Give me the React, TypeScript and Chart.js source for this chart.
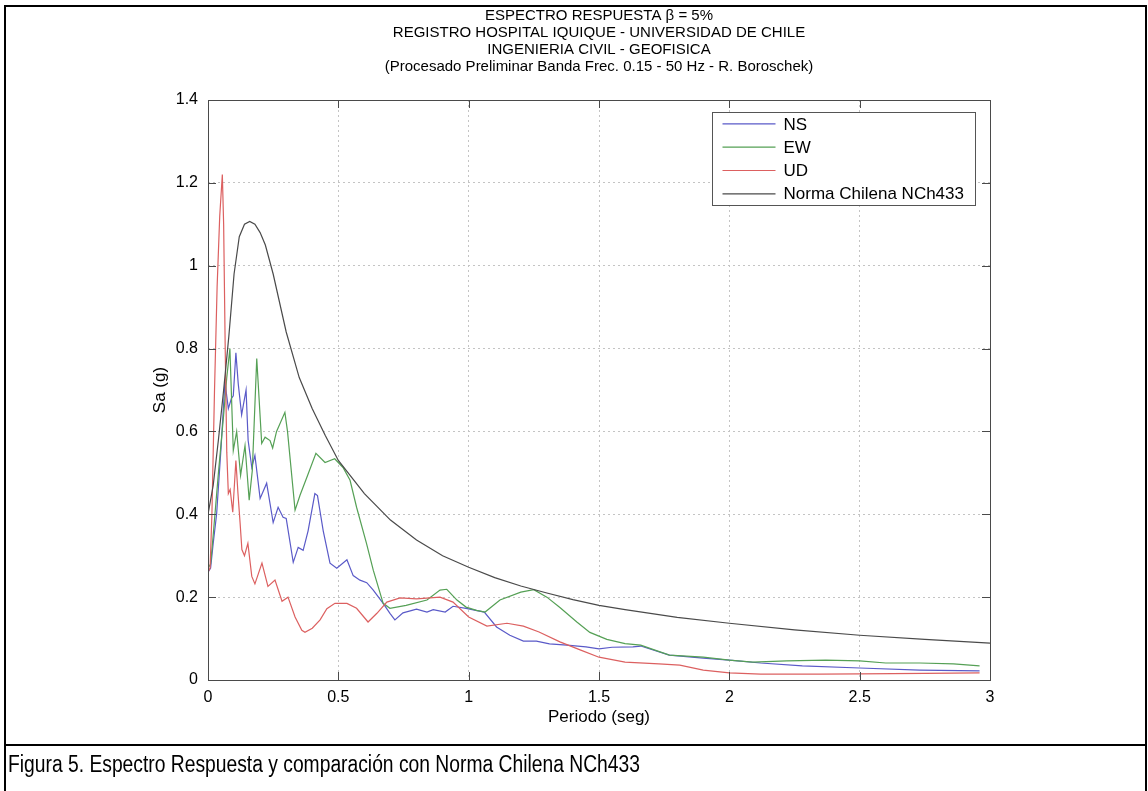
import React, { useEffect, useRef } from "react";
import { Chart, registerables } from "chart.js";

Chart.register(...registerables);

// ---------- text ----------
const titleLines = [
  "ESPECTRO RESPUESTA \u03B2 = 5%",
  "REGISTRO HOSPITAL IQUIQUE - UNIVERSIDAD DE CHILE",
  "INGENIERIA CIVIL - GEOFISICA",
  "(Procesado Preliminar Banda Frec. 0.15 - 50 Hz - R. Boroschek)",
];
const xAxisLabel = "Periodo (seg)";
const yAxisLabel = "Sa (g)";
const caption = "Figura 5. Espectro Respuesta y comparación con Norma Chilena NCh433";
const seriesNames = ["NS", "EW", "UD", "Norma Chilena NCh433"];

// ---------- ticks ----------
const xTicks = [0, 0.5, 1, 1.5, 2, 2.5, 3];
const yTicks = [0, 0.2, 0.4, 0.6, 0.8, 1, 1.2, 1.4];

// ---------- data ----------
const nsT = [0, 0.01, 0.02, 0.033, 0.05, 0.065, 0.078, 0.09, 0.097, 0.107, 0.116, 0.129, 0.146, 0.154, 0.168, 0.18, 0.2, 0.225, 0.25, 0.269, 0.288, 0.3, 0.327, 0.346, 0.365, 0.384, 0.41, 0.42, 0.442, 0.468, 0.494, 0.533, 0.557, 0.583, 0.609, 0.634, 0.672, 0.698, 0.717, 0.748, 0.8, 0.84, 0.864, 0.91, 0.94, 0.99, 1.06, 1.107, 1.158, 1.21, 1.26, 1.31, 1.377, 1.45, 1.5, 1.55, 1.63, 1.66, 1.77, 1.9, 2.0, 2.12, 2.28, 2.5, 2.73, 2.96];
const nsSa = [0.26, 0.27, 0.33, 0.4, 0.56, 0.72, 0.655, 0.68, 0.686, 0.79, 0.715, 0.64, 0.7, 0.578, 0.513, 0.542, 0.438, 0.475, 0.38, 0.417, 0.393, 0.39, 0.284, 0.32, 0.313, 0.36, 0.45, 0.445, 0.36, 0.282, 0.27, 0.29, 0.252, 0.241, 0.235, 0.217, 0.185, 0.161, 0.145, 0.162, 0.171, 0.164, 0.17, 0.164, 0.178, 0.173, 0.164, 0.128, 0.108, 0.094, 0.094, 0.087, 0.084, 0.08, 0.075, 0.079, 0.08, 0.082, 0.06, 0.053, 0.048, 0.041, 0.034, 0.029, 0.024, 0.022];

const ewT = [0, 0.01, 0.02, 0.04, 0.06, 0.072, 0.084, 0.097, 0.11, 0.125, 0.142, 0.158, 0.17, 0.187, 0.206, 0.219, 0.238, 0.248, 0.263, 0.295, 0.305, 0.334, 0.353, 0.379, 0.414, 0.449, 0.486, 0.518, 0.545, 0.57, 0.608, 0.634, 0.672, 0.698, 0.76, 0.84, 0.89, 0.916, 0.955, 0.99, 1.03, 1.063, 1.12, 1.2, 1.25, 1.3, 1.35, 1.415, 1.465, 1.53, 1.6, 1.66, 1.77, 1.9, 2.0, 2.09, 2.22, 2.37, 2.5, 2.6, 2.73, 2.86, 2.96];
const ewSa = [0.27, 0.28, 0.35, 0.5, 0.64, 0.73, 0.8, 0.554, 0.6, 0.494, 0.566, 0.434, 0.506, 0.776, 0.571, 0.586, 0.578, 0.56, 0.6, 0.646, 0.6, 0.41, 0.446, 0.489, 0.547, 0.525, 0.534, 0.513, 0.482, 0.417, 0.33, 0.265, 0.185, 0.173, 0.18, 0.193, 0.217, 0.219, 0.193, 0.176, 0.168, 0.164, 0.193, 0.212, 0.218, 0.2, 0.175, 0.14, 0.115, 0.098, 0.088, 0.084, 0.06, 0.055, 0.048, 0.043, 0.046, 0.048, 0.046, 0.041, 0.041, 0.039, 0.034];

const udT = [0, 0.008, 0.015, 0.025, 0.035, 0.045, 0.055, 0.06, 0.066, 0.072, 0.078, 0.085, 0.095, 0.107, 0.115, 0.123, 0.13, 0.14, 0.153, 0.168, 0.18, 0.207, 0.23, 0.257, 0.284, 0.307, 0.334, 0.36, 0.372, 0.4, 0.43, 0.456, 0.487, 0.533, 0.57, 0.614, 0.648, 0.686, 0.737, 0.8, 0.89, 0.94, 1.0, 1.07, 1.147, 1.21, 1.27, 1.35, 1.43, 1.5, 1.6, 1.73, 1.81, 1.9, 2.0, 2.12, 2.35, 2.5, 2.75, 2.96];
const udSa = [0.26, 0.27, 0.4, 0.7, 0.95, 1.12, 1.22, 1.1, 0.8, 0.55, 0.45, 0.46, 0.405, 0.53, 0.45, 0.38, 0.315, 0.3, 0.33, 0.25, 0.232, 0.282, 0.226, 0.241, 0.19, 0.2, 0.152, 0.12, 0.115, 0.125, 0.145, 0.172, 0.185, 0.185, 0.173, 0.14, 0.161, 0.188, 0.198, 0.196, 0.2, 0.188, 0.152, 0.13, 0.137, 0.13, 0.116, 0.092, 0.072, 0.055, 0.043, 0.039, 0.036, 0.024, 0.017, 0.014, 0.014, 0.015, 0.016, 0.017];

const normT = [0, 0.02, 0.04, 0.06, 0.08, 0.1, 0.12, 0.14, 0.16, 0.18, 0.2, 0.22, 0.25, 0.3, 0.35, 0.4, 0.45, 0.5, 0.6, 0.7, 0.8, 0.9, 1.0, 1.1, 1.2, 1.3, 1.4, 1.5, 1.6, 1.8, 2.0, 2.25, 2.5, 2.75, 3.0];
const normSa = [0.4, 0.47, 0.58, 0.7, 0.83, 0.98, 1.07, 1.1, 1.107, 1.1, 1.08, 1.05, 0.98, 0.84, 0.73, 0.655, 0.59, 0.53, 0.45, 0.386, 0.338, 0.3, 0.272, 0.247, 0.227, 0.21, 0.194, 0.18, 0.17, 0.151, 0.137, 0.121, 0.108, 0.098, 0.089];

const seriesColors = ["#5a5ac8", "#55a055", "#dc6060", "#4a4a4a"];

const FONT = "Arial, 'Liberation Sans', Helvetica, sans-serif";

const toPoints = (t: number[], s: number[]) => t.map((x, i) => ({ x, y: s[i] }));

const boxPlugin = {
  id: "matlabBox",
  afterDatasetsDraw(chart: any) {
    const { ctx, chartArea: a, scales } = chart;
    ctx.save();
    // axes box
    ctx.strokeStyle = "#4a4a4a";
    ctx.lineWidth = 1;
    ctx.strokeRect(Math.round(a.left) + 0.5, Math.round(a.top) + 0.5, Math.round(a.right - a.left), Math.round(a.bottom - a.top));
    // inward ticks
    const L = 8;
    ctx.beginPath();
    for (const v of xTicks) {
      const x = Math.round(scales.x.getPixelForValue(v)) + 0.5;
      ctx.moveTo(x, a.bottom);
      ctx.lineTo(x, a.bottom - L);
      ctx.moveTo(x, a.top);
      ctx.lineTo(x, a.top + L);
    }
    for (const v of yTicks) {
      const y = Math.round(scales.y.getPixelForValue(v)) + 0.5;
      ctx.moveTo(a.left, y);
      ctx.lineTo(a.left + L, y);
      ctx.moveTo(a.right, y);
      ctx.lineTo(a.right - L, y);
    }
    ctx.stroke();

    // legend
    const w = 263;
    const h = 93;
    const x0 = Math.round(a.right - 15 - w) + 0.5;
    const y0 = Math.round(a.top + 12) + 0.5;
    ctx.fillStyle = "#ffffff";
    ctx.fillRect(x0, y0, w, h);
    ctx.strokeStyle = "#555555";
    ctx.strokeRect(x0, y0, w, h);
    ctx.font = `17px ${FONT}`;
    ctx.textBaseline = "middle";
    ctx.textAlign = "left";
    chart.data.datasets.forEach((ds: any, i: number) => {
      const y = y0 + 11.4 + i * 23.3;
      ctx.strokeStyle = ds.borderColor;
      ctx.lineWidth = 1.2;
      ctx.beginPath();
      ctx.moveTo(x0 + 10, y);
      ctx.lineTo(x0 + 63, y);
      ctx.stroke();
      ctx.fillStyle = "#000";
      ctx.fillText(ds.label, x0 + 71, y + 1);
    });
    ctx.restore();
  },
};

export default function App() {
  const ref = useRef<HTMLCanvasElement | null>(null);

  useEffect(() => {
    if (!ref.current) return;
    const tickFont = { family: FONT, size: 16 };
    const axisTitleFont = { family: FONT, size: 17 };
    const chart = new Chart(ref.current, {
      type: "line",
      data: {
        datasets: [
          { label: seriesNames[0], data: toPoints(nsT, nsSa), borderColor: seriesColors[0], order: 4 },
          { label: seriesNames[1], data: toPoints(ewT, ewSa), borderColor: seriesColors[1], order: 3 },
          { label: seriesNames[2], data: toPoints(udT, udSa), borderColor: seriesColors[2], order: 2 },
          { label: seriesNames[3], data: toPoints(normT, normSa), borderColor: seriesColors[3], order: 1 },
        ].map((d) => ({ ...d, borderWidth: 1.2, pointRadius: 0, tension: 0, fill: false })),
      },
      options: {
        responsive: false,
        animation: false,
        events: [],
        layout: { padding: { left: 148, right: 158, top: 5, bottom: 59 } },
        plugins: {
          legend: { display: false },
          tooltip: { enabled: false },
          title: {
            display: true,
            fullSize: false,
            text: titleLines,
            color: "#000",
            font: { family: FONT, size: 15, weight: "normal", lineHeight: 17 / 15 },
            padding: { top: 2.5, bottom: 24.5 },
          },
        },
        scales: {
          x: {
            type: "linear",
            min: 0,
            max: 3,
            afterBuildTicks: (s: any) => {
              s.ticks = xTicks.map((value) => ({ value }));
            },
            afterFit: (s: any) => {
              s.height = 52;
            },
            grid: { color: "#c4c4c4", lineWidth: 1, drawTicks: false },
            border: { display: false, dash: [2, 3] },
            ticks: {
              color: "#000",
              font: tickFont,
              padding: 8,
              maxRotation: 0,
              autoSkip: false,
              callback: (v: any) => String(v),
            },
            title: { display: true, text: xAxisLabel, color: "#000", font: axisTitleFont, padding: { top: 4, bottom: 4 } },
          },
          y: {
            type: "linear",
            min: 0,
            max: 1.4,
            afterBuildTicks: (s: any) => {
              s.ticks = yTicks.map((value) => ({ value }));
            },
            afterFit: (s: any) => {
              s.width = 60;
            },
            grid: { color: "#c4c4c4", lineWidth: 1, drawTicks: false },
            border: { display: false, dash: [2, 3] },
            ticks: {
              color: "#000",
              font: tickFont,
              padding: 10,
              autoSkip: false,
              callback: (v: any) => String(v),
            },
            title: { display: true, text: yAxisLabel, color: "#000", font: axisTitleFont, padding: { top: 2, bottom: 4 } },
          },
        },
      },
      plugins: [boxPlugin],
    } as any);
    return () => chart.destroy();
  }, []);

  return (
    <div style={{ position: "absolute", left: 0, top: 0, width: 1148, height: 791, background: "#fff", overflow: "hidden" }}>
      <canvas ref={ref} width={1148} height={791} style={{ position: "absolute", left: 0, top: 0, width: 1148, height: 791 }} />
      <div
        style={{
          position: "absolute",
          left: 4,
          top: 5,
          width: 1143,
          height: 741,
          boxSizing: "border-box",
          border: "2px solid #000",
          pointerEvents: "none",
        }}
      />
      <div
        style={{
          position: "absolute",
          left: 4,
          top: 745,
          width: 1143,
          height: 60,
          boxSizing: "border-box",
          borderLeft: "2px solid #000",
          borderRight: "2px solid #000",
          pointerEvents: "none",
        }}
      />
      <div
        style={{
          position: "absolute",
          left: 8,
          top: 753,
          fontFamily: FONT,
          fontSize: 23.5,
          lineHeight: 1,
          whiteSpace: "nowrap",
          color: "#000",
          transform: "scaleX(0.82)",
          transformOrigin: "left top",
        }}
      >
        {caption}
      </div>
    </div>
  );
}
